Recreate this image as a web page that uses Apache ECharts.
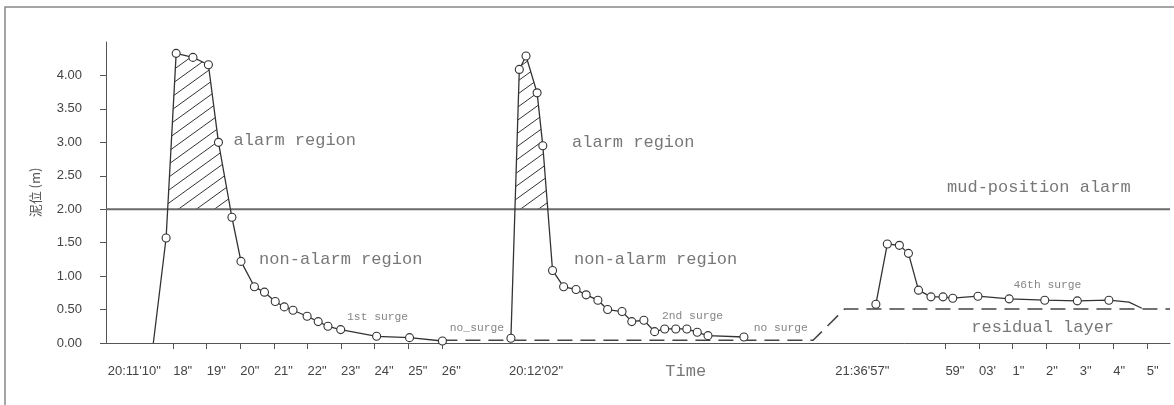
<!DOCTYPE html>
<html>
<head>
<meta charset="utf-8">
<script src="https://cdn.jsdelivr.net/npm/echarts@6/dist/echarts.min.js"></script>
<style>
html,body{margin:0;padding:0;background:#fff;}
#chart{width:1174px;height:405px;}
</style>
</head>
<body>
<div id="chart"></div>
<script>
// ---- data (x in axis-step units, y = mud level in m) ----
const alarmLevel = 2.0;
const surge1Lead = [[1.41, 0]];
const surge1 = [[1.79,1.57],[2.09,4.33],[2.59,4.27],[3.05,4.16],[3.35,3.00],[3.75,1.88],[4.02,1.22],[4.42,0.84],[4.72,0.76],[5.04,0.62],[5.31,0.54],[5.57,0.49],[5.99,0.40],[6.32,0.32],[6.61,0.25],[6.99,0.20],[8.06,0.10],[9.04,0.08],[10.02,0.03]];
const surge2 = [[12.06,0.07],[12.31,4.09],[12.51,4.29],[12.84,3.74],[13.01,2.95],[13.30,1.085],[13.63,0.84],[14.00,0.80],[14.30,0.72],[14.65,0.64],[14.94,0.50],[15.37,0.47],[15.66,0.32],[16.02,0.34],[16.34,0.17],[16.64,0.21],[16.97,0.21],[17.30,0.21],[17.61,0.16],[17.93,0.11],[19.00,0.09]];
const surge3 = [[22.93,0.58],[23.27,1.48],[23.63,1.46],[23.90,1.34],[24.20,0.79],[24.57,0.69],[24.93,0.69],[25.22,0.67],[25.97,0.70],[26.90,0.66],[27.96,0.64],[28.93,0.63],[29.87,0.64]];
const surge3Tail = [[30.47,0.61],[30.85,0.52]];
const residual = [[10.02,0.04],[21.06,0.04],[22.00,0.51],[31.69,0.51]];
const xTickPos = [2,3,4,5,6,7,8,9,10,25,26,27,28,29,30,31];
const xLabelPos = [0.05,2,3,4,5,6,7,8,9,10,12.0,21.72,25,26,27,28,29,30,31];
const xLabelText = ["20:11'10\"","18\"","19\"","20\"","21\"","22\"","23\"","24\"","25\"","26\"","20:12'02\"","21:36'57\"","59\"","03'","1\"","2\"","3\"","4\"","5\""];
const yTicks = [0,0.5,1,1.5,2,2.5,3,3.5,4];
const annotations = [
  ["alarm region",3.80,3.03,"big"],
  ["alarm region",13.88,3.00,"big"],
  ["non-alarm region",4.56,1.245,"big"],
  ["non-alarm region",13.94,1.245,"big"],
  ["mud-position alarm",25.05,2.32,"big"],
  ["residual layer",25.77,0.23,"big"],
  ["Time",16.66,-0.433,"big"],
  ["1st surge",7.18,0.39,"small"],
  ["no_surge",10.24,0.23,"small"],
  ["2nd surge",16.56,0.40,"small"],
  ["no surge",19.29,0.23,"small"],
  ["46th surge",27.03,0.86,"small"]
];
const X_MAX = 31.69, Y_MAX = 4.5;

// hatch pattern
function hatch(){
  const w=18,h=13,c=document.createElement('canvas');
  c.width=w;c.height=h;
  const g=c.getContext('2d');
  g.strokeStyle='#333';g.lineWidth=1;
  for(let k=-1;k<=1;k++){
    g.beginPath();g.moveTo(-w,2*h+k*h);g.lineTo(2*w,-h+k*h);g.stroke();
  }
  return c;
}
function clipAbove(pts,level){
  const out=[];
  for(let i=0;i<pts.length;i++){
    const [x,y]=pts[i];
    if(i>0){
      const [px,py]=pts[i-1];
      if((py-level)*(y-level)<0){
        out.push([px+(x-px)*(level-py)/(y-py),level]);
      }
    }
    if(y>=level) out.push([x,y]);
  }
  return out;
}
const lead1 = surge1Lead.concat(surge1);
const noSym = p=>({value:p,symbol:'none'});

const pattern = {image:hatch(),repeat:'repeat'};
const lineCol='#333';
const markerSeries = (data)=>({
  type:'line',data:data,symbol:'circle',symbolSize:8,
  itemStyle:{color:'#fff',borderColor:lineCol,borderWidth:1.1},
  lineStyle:{color:lineCol,width:1.3},z:5,silent:true
});

const chart = echarts.init(document.getElementById('chart'),null,{renderer:'canvas'});
chart.setOption({
  animation:false,
  backgroundColor:'#fff',
  grid:{left:106,right:4,top:42,bottom:62},
  xAxis:{type:'value',min:0,max:X_MAX,
    axisLine:{lineStyle:{color:'#555',width:1}},
    axisTick:{show:true,length:6,customValues:xTickPos,lineStyle:{color:'#555'}},
    axisLabel:{customValues:xLabelPos,margin:22,color:'#444',fontSize:13,align:'left',fontFamily:'Liberation Sans, Arial, sans-serif',
      formatter:v=>{const i=xLabelPos.findIndex(p=>Math.abs(p-v)<0.005);return i>=0?xLabelText[i]:'';}},
    splitLine:{show:false}},
  yAxis:{type:'value',min:0,max:Y_MAX,
    name:'泥位 (m)',nameLocation:'middle',nameGap:64,nameRotate:90,
    nameTextStyle:{color:'#555',fontSize:13,fontFamily:'Noto Sans CJK SC'},
    axisLine:{show:true,lineStyle:{color:'#555',width:1}},
    axisTick:{show:true,length:6,customValues:yTicks,lineStyle:{color:'#555'}},
    axisLabel:{customValues:yTicks,margin:24,color:'#444',fontSize:13,fontFamily:'Liberation Sans, Arial, sans-serif',
      formatter:v=>v.toFixed(2)},
    splitLine:{show:false}},
  series:[
    {type:'line',data:clipAbove(lead1,alarmLevel),symbol:'none',lineStyle:{width:0},
      areaStyle:{origin:alarmLevel,color:pattern,opacity:1},z:2,silent:true},
    {type:'line',data:clipAbove(surge2,alarmLevel),symbol:'none',lineStyle:{width:0},
      areaStyle:{origin:alarmLevel,color:pattern,opacity:1},z:2,silent:true},
    {type:'line',data:[[0,alarmLevel],[X_MAX,alarmLevel]],symbol:'none',
      lineStyle:{color:'#6a6a6a',width:2},z:3,silent:true},
    {type:'line',data:residual,symbol:'none',
      lineStyle:{color:'#444',width:1.5,type:[15,8]},z:3,silent:true},
    markerSeries(surge1Lead.map(noSym).concat(surge1)),
    markerSeries(surge2),
    markerSeries(surge3.concat(surge3Tail.map(noSym))),
    {type:'scatter',symbolSize:0,clip:false,silent:true,z:6,
      data:annotations.map(a=>({value:[a[1],a[2]],name:a[0],
        label:{show:true,position:'right',distance:0,formatter:a[0],
          fontFamily:'Liberation Mono, DejaVu Sans Mono, monospace',
          fontSize:a[3]==='big'?17:11.3,color:a[3]==='big'?'#555':'#666'}}))}
  ],
  graphic:[{type:'polyline',shape:{points:[[5,405],[5,7],[1174,7]]},
    style:{stroke:'#888',lineWidth:1.5,fill:null},silent:true}]
});
</script>
</body>
</html>
